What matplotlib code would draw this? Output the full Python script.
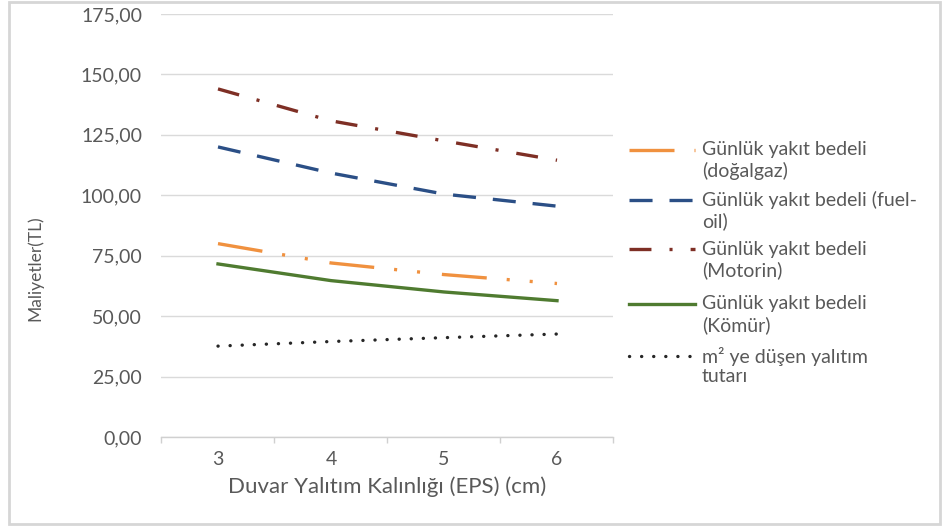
import matplotlib
matplotlib.use("Agg")
import matplotlib.pyplot as plt
from matplotlib.lines import Line2D
from matplotlib.patches import Rectangle
from matplotlib.ticker import FuncFormatter, FixedLocator

# Data
thickness = ["3", "4", "5", "6"]
dogalgaz = [80.0, 72.0, 67.2, 63.5]
fuel_oil = [120.0, 109.2, 100.5, 95.5]
motorin = [144.0, 130.8, 122.5, 114.5]
komur = [71.6, 64.7, 60.0, 56.4]
yalitim = [37.6, 39.5, 41.1, 42.6]

labels = [
    "Günlük yakıt bedeli\n(doğalgaz)",
    "Günlük yakıt bedeli (fuel-\noil)",
    "Günlük yakıt bedeli\n(Motorin)",
    "Günlük yakıt bedeli\n(Kömür)",
    "m² ye düşen yalıtım\ntutarı",
]

plt.rcParams["lines.scale_dashes"] = False
plt.rcParams["font.family"] = ["Lato", "DejaVu Sans"]

W, H, DPI = 953, 529, 100
TXT = "#595959"
fig = plt.figure(figsize=(W / DPI, H / DPI), dpi=DPI)
fig.patch.set_facecolor("white")

def px(x, y):
    return x / W, 1 - y / H

# chart frame
fig.add_artist(Rectangle(px(9, 524), 931 / W, 522 / H, transform=fig.transFigure,
                         fill=False, edgecolor="#D6D6D6", linewidth=2.0))

x0, x1, ytop, ybot = 161.5, 613.5, 14, 437
ax = fig.add_axes([x0 / W, 1 - ybot / H, (x1 - x0) / W, (ybot - ytop) / H])

lw = 2.4
styles = [
    dict(color="#F0913F", linestyle=(0, (32.4, 14.4, 2.2, 14.4, 2.2, 15.8)), dash_capstyle="butt"),
    dict(color="#2B4F86", linestyle=(0, (16.6, 12.2)), dash_capstyle="butt"),
    dict(color="#7E2F25", linestyle=(0, (15.8, 13.0, 2.2, 13.0)), dash_capstyle="butt"),
    dict(color="#4F7B30", linestyle="-"),
    dict(color="#262626", linestyle=(0, (0.1, 8.6)), dash_capstyle="round"),
]
series = [dogalgaz, fuel_oil, motorin, komur, yalitim]
for vals, st in zip(series, styles):
    ax.plot(thickness, vals, linewidth=lw, **st)

ax.set_xlim(-0.5, 3.5)
ax.set_ylim(0, 175)
ax.set_yticks([0, 25, 50, 75, 100, 125, 150, 175])
ax.yaxis.set_major_formatter(FuncFormatter(lambda v, p: f"{v:.2f}".replace(".", ",")))
ax.grid(axis="y", color="#DADADA", linewidth=1.0)
ax.set_axisbelow(True)
for s in ["top", "right", "left"]:
    ax.spines[s].set_visible(False)
ax.spines["bottom"].set_color("#D0D0D0")
ax.spines["bottom"].set_linewidth(1.0)
ax.tick_params(axis="y", length=0, pad=14, labelsize=14, labelcolor=TXT)
ax.tick_params(axis="x", which="major", length=0, pad=10, labelsize=14, labelcolor=TXT)
ax.xaxis.set_minor_locator(FixedLocator([-0.5, 0.5, 1.5, 2.5, 3.5]))
ax.tick_params(axis="x", which="minor", length=4, color="#D0D0D0", width=1.0)
ax.set_xlabel("Duvar Yalıtım Kalınlığı (EPS) (cm)", fontsize=16, color=TXT, labelpad=6)

fig.text(*px(35, 268), "Maliyetler(TL)", rotation=90, ha="center", va="center",
         fontsize=12.5, color=TXT)

# legend drawn alongside the plot
rows = [150, 200, 249, 304, 356]
for y, lab, st in zip(rows, labels, styles):
    (lx0, ly), (lx1, _) = px(629, y), px(695, y)
    fig.add_artist(Line2D([lx0, lx1], [ly, ly], transform=fig.transFigure, linewidth=lw, **st))
    for i, line in enumerate(lab.split("\n")):
        tx, ty = px(702, y + 21 * i)
        fig.text(tx, ty, line, ha="left", va="center", fontsize=14, color=TXT)

fig.savefig("out.png", dpi=DPI, facecolor="white")
